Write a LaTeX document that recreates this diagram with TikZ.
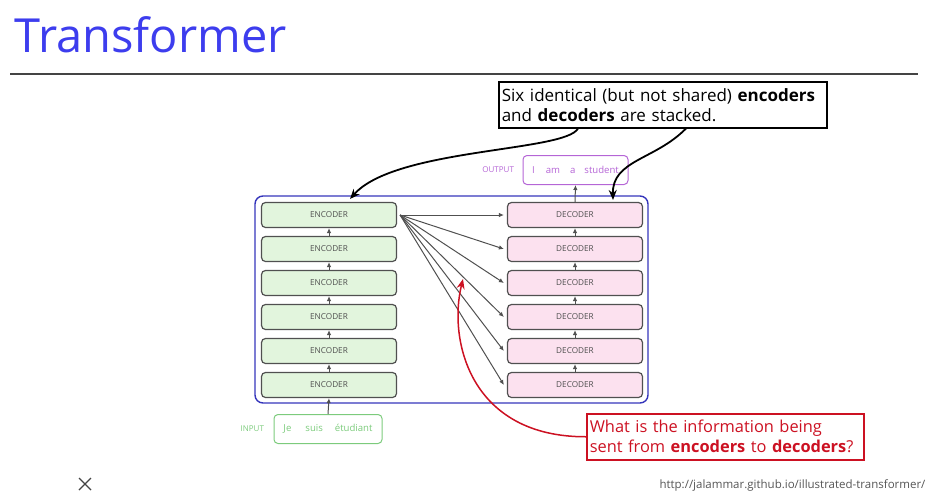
\documentclass[tikz,border=0pt]{standalone}
\usepackage{fontspec}
\setmainfont{Open Sans}
\usetikzlibrary{arrows.meta,positioning}
\definecolor{titleblue}{HTML}{3D3DEE}
\definecolor{rulegray}{HTML}{444444}
\definecolor{boxgray}{HTML}{505050}
\definecolor{encgreen}{HTML}{E2F5DD}
\definecolor{decpink}{HTML}{FCE1EF}
\definecolor{stackblue}{HTML}{3535BB}
\definecolor{outpurple}{HTML}{B565D6}
\definecolor{ingreen}{HTML}{7CCB7C}
\definecolor{askred}{HTML}{CC1122}
\definecolor{urlgray}{HTML}{555555}
\tikzset{
  layer/.style={draw=boxgray, line width=1.2pt, rounded corners=4pt,
    minimum width=135pt, minimum height=25pt, text=boxgray,
    font=\fontsize{8.2}{9}\selectfont},
  encbox/.style={layer, fill=encgreen},
  decbox/.style={layer, fill=decpink},
  link/.style={-{Latex[length=5pt,width=4.5pt]}, draw=boxgray, line width=1pt},
  wordbox/.style={rounded corners=4pt, line width=1pt, minimum height=29pt,
    inner xsep=3pt, font=\fontsize{9.6}{12}\selectfont},
  tag/.style={font=\fontsize{8}{9}\selectfont},
  pointer/.style={-{Stealth[length=10pt,width=8pt]}, line width=1.8pt},
  textbox/.style={line width=1.5pt, align=left, inner xsep=3pt, inner ysep=3pt,
    minimum height=46pt},
}
\begin{document}
\begin{tikzpicture}[x=1pt,y=-1pt]
\useasboundingbox (0,0) rectangle (937,491);
% title and rule
\node [anchor=west, text=titleblue, font=\fontsize{47}{50}\selectfont] (title) at (11,35) {Transformer};
\draw [color=rulegray, line width=1.5pt] (10,74) -- (918,74);
% the stacks
\draw [color=stackblue, line width=1.4pt, rounded corners=8pt] (255,196) rectangle (648,403);
\foreach \i in {1,...,6} {
  \node [encbox] (enc\i) at (329,{215+34*(\i-1)}) {ENCODER};
  \node [decbox] (dec\i) at (575,{215+34*(\i-1)}) {DECODER};
}
\foreach \i in {2,...,6} {
  \pgfmathtruncatemacro{\up}{\i-1}
  \draw [link] (enc\i.north) -- (enc\up.south);
  \draw [link] (dec\i.north) -- (dec\up.south);
}
\foreach \i in {1,...,6}
  \draw [link] ([xshift=3pt]enc1.east) -- ([xshift=-3pt]dec\i.west);
% output and input
\node [wordbox, draw=outpurple, text=outpurple, minimum width=105pt] (outwords) at (575.5,170) {I\hspace{11pt}am\hspace{10pt}a\hspace{9pt}student};
\node [tag, text=outpurple, left=5pt of outwords] (outtag) {OUTPUT};
\draw [link] (dec1.north) -- (outwords.south);
\node [wordbox, draw=ingreen, text=ingreen, minimum width=108pt] (inwords) at (328,429) {Je\hspace{14pt}suis\hspace{12pt}étudiant};
\node [tag, text=ingreen, left=6pt of inwords] (intag) {INPUT};
\draw [link] (inwords.north) -- (enc6.south);
% callouts
\node [textbox, draw=black, text width=322pt, anchor=north west, font=\fontsize{17}{20}\selectfont] (note) at (498,81)
  {Six identical (but not shared) \textbf{encoders}\\and \textbf{decoders} are stacked.};
\coordinate (enctop) at (350,199);
\coordinate (dectop) at (613,200);
\draw [pointer] ([xshift=80pt]note.south west) .. controls (565,152) and (395,148) .. (enctop);
\draw [pointer] ([xshift=188pt]note.south west) .. controls (655,160) and (612,160) .. (dectop);
\node [textbox, draw=askred, text=askred, text width=271pt, anchor=north west, font=\fontsize{16.4}{20}\selectfont] (ask) at (586,413)
  {What is the information being\\sent from \textbf{encoders} to \textbf{decoders}?};
\coordinate (gap) at (463,279);
\draw [askred, line width=1.5pt, -{Stealth[length=10pt,width=8pt]}] (ask.west) .. controls (470,437) and (448,340) .. (gap);
% footer
\node [anchor=east, text=urlgray, font=\fontsize{11.5}{13}\selectfont] (url) at (929,485) {http://jalammar.github.io/illustrated-transformer/};
\draw [color=rulegray, line width=1.2pt] (79,478) -- (91,490) (79,490) -- (91,478);
\end{tikzpicture}
\end{document}
